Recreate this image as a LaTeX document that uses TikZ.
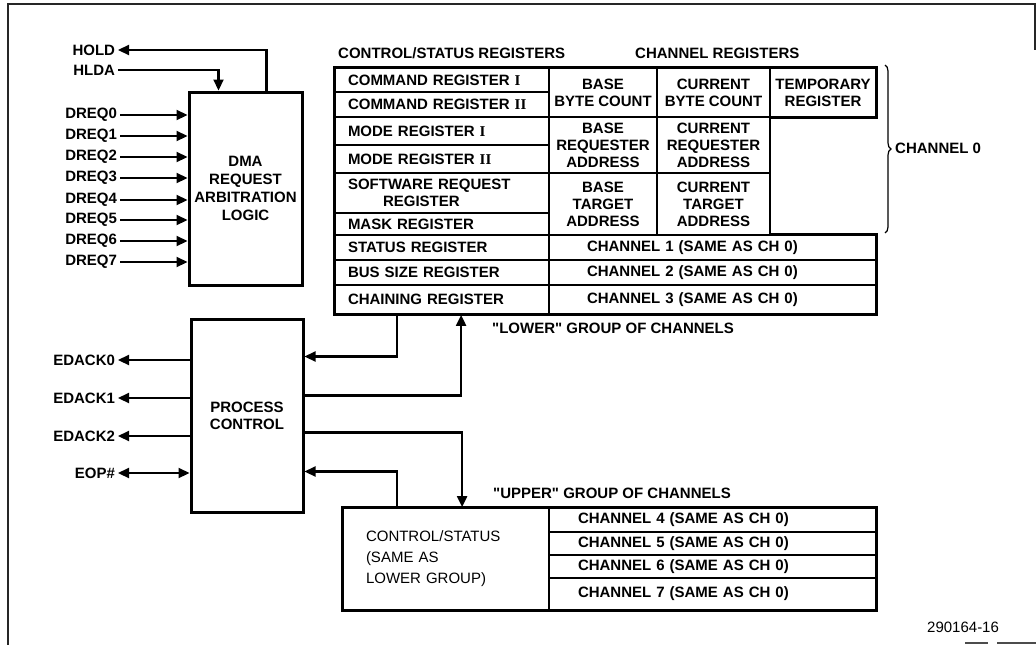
\documentclass[tikz,border=0pt]{standalone}
\usepackage{fontspec}
\setmainfont{Liberation Sans}
\newfontfamily\rmnum{Liberation Serif}
\usetikzlibrary{arrows.meta,calc,decorations.pathreplacing}
\begin{document}
\begin{tikzpicture}[x=1pt,y=-1pt,
  every node/.style={font=\fontsize{15}{17}\selectfont\bfseries},
  lbl/.style={inner sep=0pt, outer sep=3pt},
  txt/.style={inner sep=0pt},
  cell/.style={draw, line width=1.8pt, inner xsep=3pt, inner ysep=0pt, align=center},
  lcell/.style={draw, line width=1.8pt, inner xsep=13pt, inner ysep=0pt, text width=188pt, align=left},
  ccell/.style={draw, line width=1.8pt, inner xsep=38pt, inner ysep=0pt, text width=251pt, align=left, minimum width=327pt},
  ucell/.style={draw, line width=1.8pt, inner xsep=29pt, inner ysep=0pt, text width=269pt, align=left, minimum width=327pt},
  bigbox/.style={draw, line width=3pt, align=center, inner sep=0pt},
  sig/.style={line width=2.2pt},
  tip/.style={-{Triangle[length=11pt,width=10pt]}},
  dtip/.style={{Triangle[length=11pt,width=10pt]}-{Triangle[length=11pt,width=10pt]}}]
\useasboundingbox (0,0) rectangle (1036,645);
% frame
\draw[line width=1.5pt, black!85] (8,645) -- (8,4) -- (1035,4) -- (1035,50);
\draw[line width=1.2pt, black!70] (965,643) -- (988,643) (997,643) -- (1036,643);

% DMA arbitration
\node[bigbox, minimum width=113pt, minimum height=193pt, font=\fontsize{15}{18}\selectfont\bfseries] (dma) at (245.5,188.5) {DMA\\REQUEST\\ARBITRATION\\LOGIC};
\node[lbl, anchor=east] (hold) at (118,50) {HOLD};
\node[lbl, anchor=east] (hlda) at (118,70) {HLDA};
\foreach \i/\y in {0/115,1/136,2/157,3/178,4/200,5/220,6/241,7/262}
  \node[lbl, anchor=east] (dreq\i) at (120,\y) {DREQ\i};
\draw[sig,tip] ($(dma.north west)+(79,0)$) |- (hold.east);
\draw[sig,tip] (hlda.east) -| ($(dma.north west)+(31,0)$);
\foreach \i in {0,...,7}
  \draw[sig,tip] (dreq\i.east) -- (dreq\i.east -| dma.west);

% headers
\node[txt, anchor=west] (hdrcs) at (338,53) {CONTROL/STATUS REGISTERS};
\node[txt, anchor=west] (hdrch) at (635,53) {CHANNEL REGISTERS};

% control/status registers
\node[lcell, minimum height=24pt] (cmdA) at (442,80) {COMMAND REGISTER {\rmnum I}};
\node[lcell, minimum height=25pt] (cmdB) at (442,104.5) {COMMAND REGISTER {\rmnum II}};
\node[lcell, minimum height=28pt] (modeA) at (442,131) {MODE REGISTER {\rmnum I}};
\node[lcell, minimum height=28pt] (modeB) at (442,159) {MODE REGISTER {\rmnum II}};
\node[lcell, minimum height=40pt] (swreq) at (442,193) {SOFTWARE REQUEST\\\hspace*{35pt}REGISTER};
\node[lcell, minimum height=22pt] (mask) at (442,224) {MASK REGISTER};
\node[lcell, minimum height=25pt] (status) at (442,247.5) {STATUS REGISTER};
\node[lcell, minimum height=25pt] (bussize) at (442,272.5) {BUS SIZE REGISTER};
\node[lcell, minimum height=29pt] (chain) at (442,299.5) {CHAINING REGISTER};

% channel registers
\node[cell, minimum width=108pt, minimum height=49pt] (basebc) at (603,92.5) {BASE\\BYTE COUNT};
\node[cell, minimum width=113pt, minimum height=49pt] (curbc) at (713.5,92.5) {CURRENT\\BYTE COUNT};
\node[cell, minimum width=106pt, minimum height=49pt] (temp) at (823,92.5) {TEMPORARY\\REGISTER};
\node[cell, minimum width=108pt, minimum height=56pt] (basereq) at (603,145) {BASE\\REQUESTER\\ADDRESS};
\node[cell, minimum width=113pt, minimum height=56pt] (curreq) at (713.5,145) {CURRENT\\REQUESTER\\ADDRESS};
\node[cell, minimum width=108pt, minimum height=62pt] (basetgt) at (603,204) {BASE\\TARGET\\ADDRESS};
\node[cell, minimum width=113pt, minimum height=62pt] (curtgt) at (713.5,204) {CURRENT\\TARGET\\ADDRESS};
\node[ccell, minimum height=25pt] (chA) at (712.5,247.5) {CHANNEL 1 (SAME AS CH 0)};
\node[ccell, minimum height=25pt] (chB) at (712.5,272.5) {CHANNEL 2 (SAME AS CH 0)};
\node[ccell, minimum height=29pt] (chC) at (712.5,299.5) {CHANNEL 3 (SAME AS CH 0)};
\draw[line width=3pt] (temp.south west) -- (temp.south east) -- (temp.north east) -- (cmdA.north west)
  -- (chain.south west) -- (chC.south east) -- (chA.north east) -- (chA.north -| temp.west);

% channel 0 brace
\draw[line width=1.2pt, decorate, decoration={brace, amplitude=6pt}] (885,65) -- (885,233);
\node[txt, anchor=west] (ch0) at (895,148) {CHANNEL 0};

% process control
\node[bigbox, minimum width=112pt, minimum height=193pt] (pc) at (247,415.5) {PROCESS\\CONTROL};
\node[lbl, anchor=east] (edack0) at (118,360) {EDACK0};
\node[lbl, anchor=east] (edack1) at (118,398) {EDACK1};
\node[lbl, anchor=east] (edack2) at (118,436) {EDACK2};
\node[lbl, anchor=east] (eop) at (118,473) {EOP\#};
\foreach \i in {0,1,2}
  \draw[sig,tip] (edack\i.east -| pc.west) -- (edack\i.east);
\draw[sig,dtip] (eop.east) -- (eop.east -| pc.west);

\node[txt, anchor=west] (lowerlbl) at (492,328) {\textquotedbl LOWER\textquotedbl\ GROUP OF CHANNELS};
\node[txt, anchor=west] (upperlbl) at (493,493) {\textquotedbl UPPER\textquotedbl\ GROUP OF CHANNELS};

% upper group
\node[draw, line width=1.8pt, minimum width=206pt, minimum height=102pt, inner xsep=23pt, inner ysep=0pt,
  text width=160pt, align=left, font=\fontsize{15}{21}\selectfont] (ctl) at (446,559)
  {CONTROL/STATUS\\(SAME AS\\LOWER GROUP)};
\node[ucell, minimum height=24pt] (chD) at (712.5,520) {CHANNEL 4 (SAME AS CH 0)};
\node[ucell, minimum height=23pt] (chE) at (712.5,543.5) {CHANNEL 5 (SAME AS CH 0)};
\node[ucell, minimum height=23pt] (chF) at (712.5,566.5) {CHANNEL 6 (SAME AS CH 0)};
\node[ucell, minimum height=32pt] (chG) at (712.5,594) {CHANNEL 7 (SAME AS CH 0)};
\draw[line width=3pt] (ctl.north west) -- (chD.north east) -- (chG.south east) -- (ctl.south west) -- cycle;

% connectors
\draw[sig,tip] ($(chain.south west)+(63,0)$) |- ($(pc.north east)+(0,39)$);
\draw[sig,tip] ($(pc.north east)+(0,78)$) -| ($(chain.south west)+(127,0)$);
\draw[sig,tip] ($(pc.north east)+(0,115)$) -| ($(ctl.north west)+(120,0)$);
\draw[sig,tip] ($(ctl.north west)+(55,0)$) |- ($(pc.north east)+(0,154)$);

\node[txt, anchor=west, font=\fontsize{15}{17}\selectfont] (fig) at (927,627) {290164-16};
\end{tikzpicture}
\end{document}
